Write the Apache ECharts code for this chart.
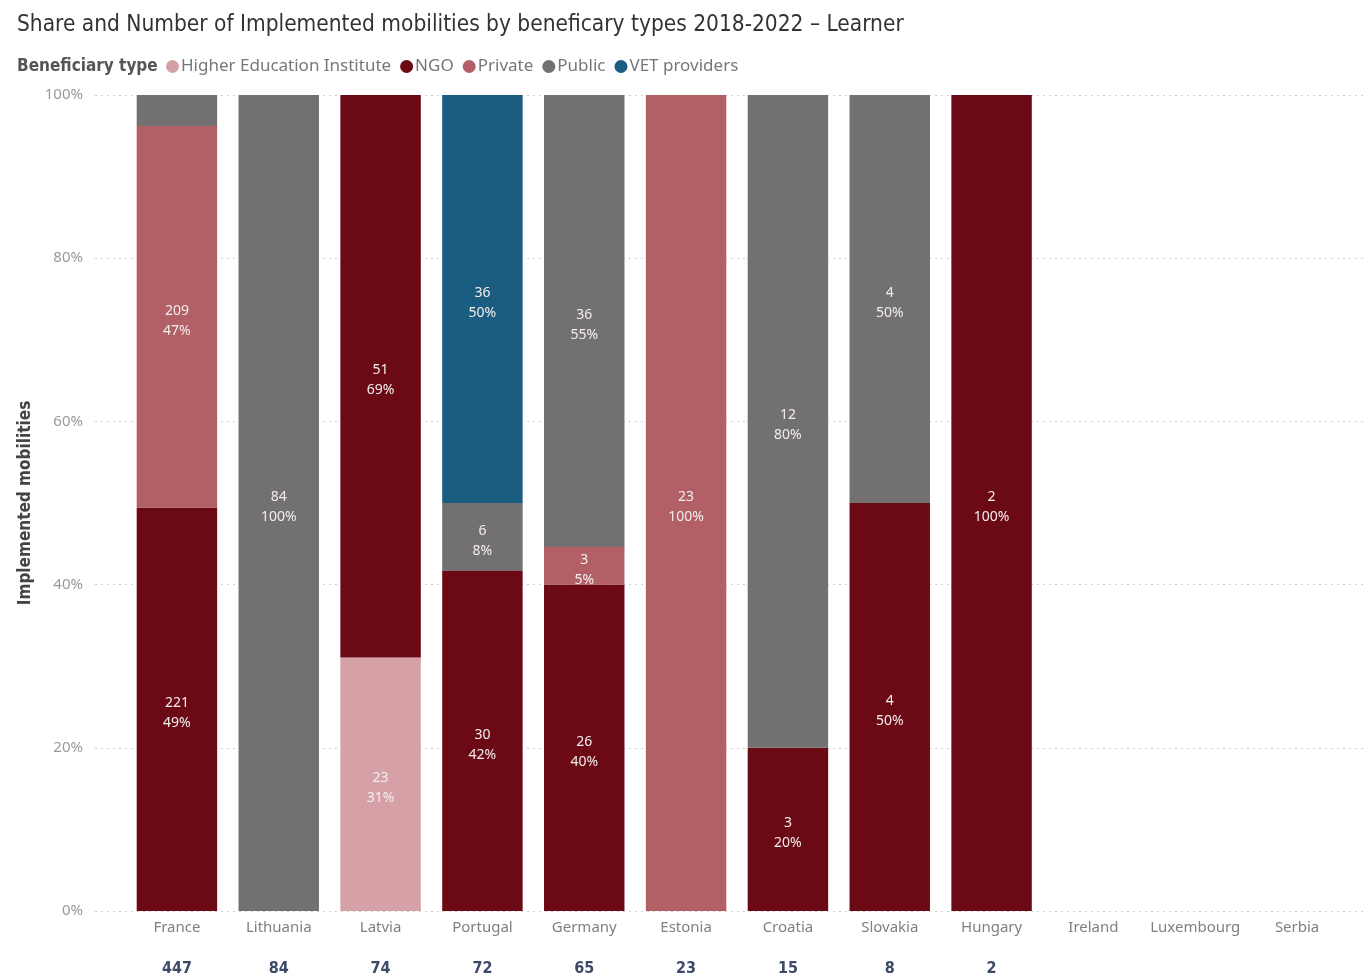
<!DOCTYPE html>
<html>
<head>
<meta charset="utf-8">
<script src="https://cdn.jsdelivr.net/npm/echarts@6/dist/echarts.min.js"></script>
<style>
  html, body { margin: 0; padding: 0; background: #fff; }
  #chart { width: 1365px; height: 978px; }
</style>
</head>
<body>
<div id="chart"></div>
<script>
// Countries along the x axis
const countries = ['France', 'Lithuania', 'Latvia', 'Portugal', 'Germany', 'Estonia',
  'Croatia', 'Slovakia', 'Hungary', 'Ireland', 'Luxembourg', 'Serbia'];

// Implemented mobilities per beneficiary type (counts)
const higherEducation = [0, 0, 23, 0, 0, 0, 0, 0, 0, 0, 0, 0];
const ngo             = [221, 0, 51, 30, 26, 0, 3, 4, 2, 0, 0, 0];
const privateOrg      = [209, 0, 0, 0, 3, 23, 0, 0, 0, 0, 0, 0];
const publicOrg       = [17, 84, 0, 6, 36, 0, 12, 4, 0, 0, 0, 0];
const vetProviders    = [0, 0, 0, 36, 0, 0, 0, 0, 0, 0, 0, 0];

// Y axis ticks (percent share)
const yTicks = [0, 20, 40, 60, 80, 100];

const seriesDefs = [
  { name: 'Higher Education Institute', values: higherEducation, color: '#d5a1a6' },
  { name: 'NGO', values: ngo, color: '#6b0915' },
  { name: 'Private', values: privateOrg, color: '#b35f66' },
  { name: 'Public', values: publicOrg, color: '#727071' },
  { name: 'VET providers', values: vetProviders, color: '#1b5d80' }
];

const totals = countries.map((_, i) =>
  seriesDefs.reduce((s, d) => s + d.values[i], 0));

const labelFont = 'Noto Sans';
const condFont = 'DejaVu Sans Condensed';

const series = seriesDefs.map(d => ({
  name: d.name,
  type: 'bar',
  stack: 'share',
  xAxisIndex: 1,
  yAxisIndex: 1,
  barCategoryGap: '21%',
  itemStyle: { color: d.color },
  emphasis: { disabled: true },
  data: d.values.map((v, i) => {
    if (!v || !totals[i]) return '-';
    const pct = v / totals[i] * 100;
    return {
      value: pct,
      count: v,
      label: { show: pct >= 4 }
    };
  }),
  label: {
    show: true,
    position: 'inside',
    color: '#f2eeee',
    fontFamily: labelFont,
    fontSize: 14,
    lineHeight: 20,
    offset: [0, 4],
    formatter: p => p.data.count + '\n' + Math.round(p.value) + '%'
  }
}));

const chart = echarts.init(document.getElementById('chart'), null, { renderer: 'canvas' });

chart.setOption({
  animation: false,
  backgroundColor: '#fff',
  title: [
    {
      text: 'Share and Number of Implemented mobilities by beneficary types 2018-2022 – Learner',
      left: 12, top: 9,
      textStyle: { fontFamily: condFont, fontSize: 22.5, fontWeight: 'normal', color: '#333' }
    },
    {
      text: 'Beneficiary type',
      left: 12, top: 53,
      textStyle: { fontFamily: condFont, fontSize: 17, fontWeight: 'bold', color: '#555' }
    }
  ],
  legend: {
    left: 161, top: 53,
    icon: 'circle',
    itemWidth: 13, itemHeight: 13,
    itemGap: 9,
    textStyle: { fontFamily: labelFont, fontSize: 17, color: '#777', padding: [0, 0, 0, -3] },
    data: seriesDefs.map(d => d.name)
  },
  grid: [
    { left: 95, right: 0, top: 95, bottom: 67 },
    { left: 126, right: 17, top: 95, bottom: 67 }
  ],
  xAxis: [
    { gridIndex: 0, type: 'value', show: false },
    {
      gridIndex: 1,
      type: 'category',
      data: countries,
      axisLine: { show: false },
      axisTick: { show: false },
      axisLabel: {
        margin: -4,
        interval: 0,
        formatter: (v, i) => '{n|' + v + '}\n{t|' + (totals[i] ? totals[i] : '') + '}',
        rich: {
          n: { fontFamily: labelFont, fontSize: 15, color: '#808080', lineHeight: 41 },
          t: { fontFamily: condFont, fontSize: 16, fontWeight: 'bold', color: '#3c4a68', lineHeight: 41 }
        }
      }
    }
  ],
  yAxis: [
    {
      gridIndex: 0,
      type: 'value',
      min: yTicks[0], max: yTicks[yTicks.length - 1], interval: 20,
      name: 'Implemented mobilities',
      nameLocation: 'middle',
      nameGap: 56,
      nameTextStyle: { fontFamily: condFont, fontSize: 17, fontWeight: 'bold', color: '#444' },
      axisLine: { show: false },
      axisTick: { show: false },
      axisLabel: { formatter: '{value}%', margin: 12, fontFamily: labelFont, fontSize: 15, color: '#999' },
      splitLine: { show: true, lineStyle: { type: [2, 4], color: '#cfcfcf', width: 1 } }
    },
    {
      gridIndex: 1,
      type: 'value',
      min: 0, max: 100,
      show: false,
      splitLine: { show: false }
    }
  ],
  series: series
});
</script>
</body>
</html>
